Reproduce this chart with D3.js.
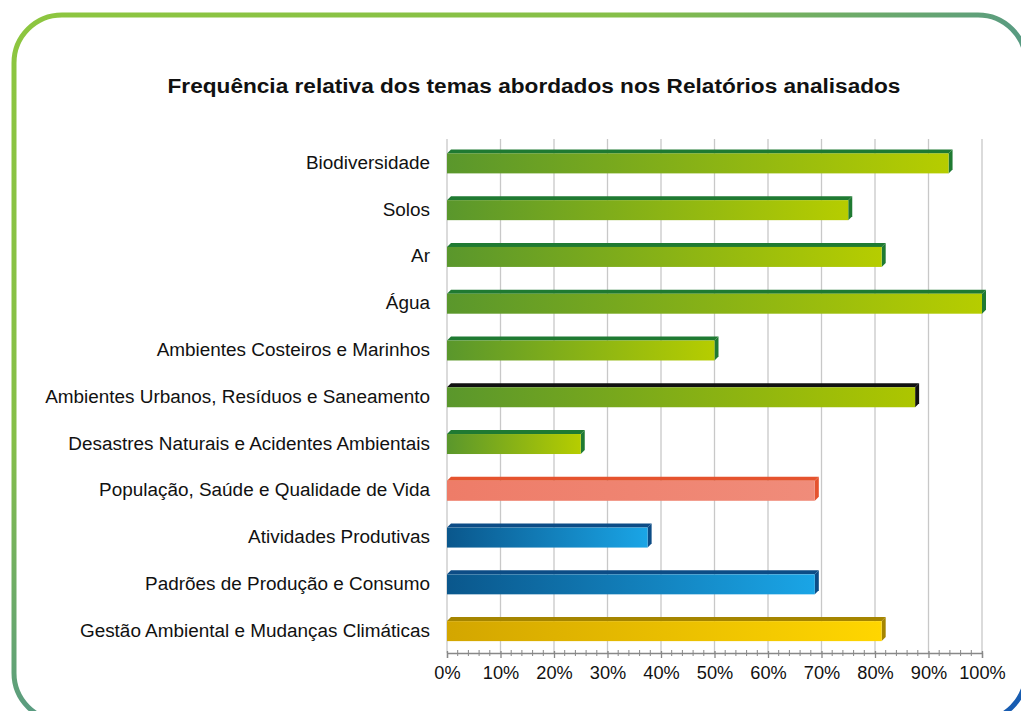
<!DOCTYPE html>
<html>
  <head>
    <title>Frequência relativa dos temas</title>
    <script src="https://d3js.org/d3.v7.min.js"></script>
    <style>
      body { margin: 0; background: #fff; }
      svg { display: block; font-family: "Liberation Sans", Arial, sans-serif; }
      .label { font-size: 17.6px; fill: #111; }
      .title { font-size: 19.5px; font-weight: bold; fill: #111; }
    </style>
  </head>
  <body>
    <svg width="1021" height="711"></svg>
    <script>
      const categories = [
        "Biodiversidade",
        "Solos",
        "Ar",
        "Água",
        "Ambientes Costeiros e Marinhos",
        "Ambientes Urbanos, Resíduos e Saneamento",
        "Desastres Naturais e Acidentes Ambientais",
        "População, Saúde e Qualidade de Vida",
        "Atividades Produtivas",
        "Padrões de Produção e Consumo",
        "Gestão Ambiental e Mudanças Climáticas"
      ];
      const values = [93.75, 75, 81.25, 100, 50, 87.5, 25, 68.75, 37.5, 68.75, 81.25];
      const groups = ["amb", "amb", "amb", "amb", "amb", "urb", "amb", "soc", "eco", "eco", "ges"];
      const xTicks = [0, 10, 20, 30, 40, 50, 60, 70, 80, 90, 100];

      const palette = {
        amb: {from: "#5a972c", to: "#b6cd00", top: "#1f7a32"},
        urb: {from: "#5a972c", to: "#adc600", top: "#111111"},
        soc: {from: "#ee7c68", to: "#f08c7a", top: "#e5532e"},
        eco: {from: "#0a578c", to: "#1aa5e6", top: "#0c4c86"},
        ges: {from: "#d3a600", to: "#ffd600", top: "#a58500"}
      };

      // stretch text horizontally to match the wider face in the original
      function stretch(sel, k) {
        sel.each(function() {
          const w = this.getComputedTextLength();
          d3.select(this).attr("textLength", w * k).attr("lengthAdjust", "spacingAndGlyphs");
        });
      }

      const svg = d3.select("svg");
      const defs = svg.append("defs");

      // frame gradient
      const fg = defs.append("linearGradient").attr("id", "frame")
          .attr("x1", "0%").attr("y1", "0%").attr("x2", "100%").attr("y2", "100%");
      fg.append("stop").attr("offset", "0%").attr("stop-color", "#8dc63f");
      fg.append("stop").attr("offset", "30%").attr("stop-color", "#86bf48");
      fg.append("stop").attr("offset", "50%").attr("stop-color", "#5a9c80");
      fg.append("stop").attr("offset", "72%").attr("stop-color", "#3f8a95");
      fg.append("stop").attr("offset", "100%").attr("stop-color", "#1559b3");

      svg.append("rect")
          .attr("x", 14).attr("y", 15)
          .attr("width", 1012).attr("height", 706)
          .attr("rx", 48).attr("ry", 48)
          .attr("fill", "none")
          .attr("stroke", "url(#frame)")
          .attr("stroke-width", 5);

      Object.entries(palette).forEach(([k, p]) => {
        const g = defs.append("linearGradient").attr("id", "grad-" + k)
            .attr("x1", "0%").attr("y1", "0%").attr("x2", "100%").attr("y2", "0%");
        g.append("stop").attr("offset", "0%").attr("stop-color", p.from);
        g.append("stop").attr("offset", "100%").attr("stop-color", p.to);
      });

      svg.append("text")
          .attr("class", "title")
          .attr("x", 534).attr("y", 93)
          .attr("text-anchor", "middle")
          .text("Frequência relativa dos temas abordados nos Relatórios analisados")
          .call(stretch, 1.16);

      const x = d3.scaleLinear().domain([0, 100]).range([447, 982]);
      const y = d3.scaleBand().domain(categories).range([139, 653.5]);
      const barH = 20;
      const depth = 4;

      // gridlines
      svg.append("g").selectAll("line").data(xTicks).join("line")
          .attr("x1", d => x(d)).attr("x2", d => x(d))
          .attr("y1", 139).attr("y2", 653)
          .attr("stroke", "#c8c8c8").attr("stroke-width", 1.3);

      // axis
      const axisY = 653;
      const xAxis = d3.axisBottom(x)
          .tickValues(xTicks)
          .tickSize(5)
          .tickFormat(d => d + "%");
      const axisG = svg.append("g")
          .attr("transform", `translate(0, ${axisY})`)
          .call(xAxis);
      axisG.select(".domain").attr("stroke", "#888").attr("stroke-width", 1.3);
      axisG.selectAll(".tick line").attr("stroke", "#888").attr("stroke-width", 1.3)
          .attr("y1", -2);
      axisG.selectAll(".tick text")
          .attr("y", 14)
          .style("font-family", "Liberation Sans, Arial, sans-serif")
          .style("font-size", "17.5px")
          .attr("fill", "#111")
          .call(stretch, 1.04);

      const minor = d3.range(0, 101, 2).filter(d => d % 10 !== 0);
      svg.append("g").selectAll("line").data(minor).join("line")
          .attr("x1", d => x(d)).attr("x2", d => x(d))
          .attr("y1", axisY - 3).attr("y2", axisY + 3)
          .attr("stroke", "#888").attr("stroke-width", 1);

      // category labels
      svg.append("g").selectAll("text").data(categories).join("text")
          .attr("class", "label")
          .attr("x", 430)
          .attr("y", d => y(d) + y.bandwidth() / 2 + 6.5)
          .attr("text-anchor", "end")
          .text(d => d)
          .call(stretch, 1.075);

      const rows = categories.map((c, i) => ({c, v: values[i], g: groups[i]}));
      const bars = svg.append("g").selectAll("g").data(rows).join("g");

      const barTop = d => y(d.c) + y.bandwidth() / 2 - barH / 2 + 1;

      // top face
      bars.append("path")
          .attr("d", d => {
            const x0 = x(0), x1 = x(d.v), t = barTop(d);
            return `M${x0},${t} L${x0 + depth},${t - depth} L${x1 + depth},${t - depth} L${x1},${t} Z`;
          })
          .attr("fill", d => palette[d.g].top);

      // side face
      bars.append("path")
          .attr("d", d => {
            const x1 = x(d.v), t = barTop(d);
            return `M${x1},${t} L${x1 + depth},${t - depth} L${x1 + depth},${t + barH - depth} L${x1},${t + barH} Z`;
          })
          .attr("fill", d => palette[d.g].top);

      // front face
      bars.append("rect")
          .attr("x", x(0))
          .attr("y", d => barTop(d))
          .attr("width", d => x(d.v) - x(0))
          .attr("height", barH)
          .attr("fill", d => `url(#grad-${d.g})`);
    </script>
  </body>
</html>
